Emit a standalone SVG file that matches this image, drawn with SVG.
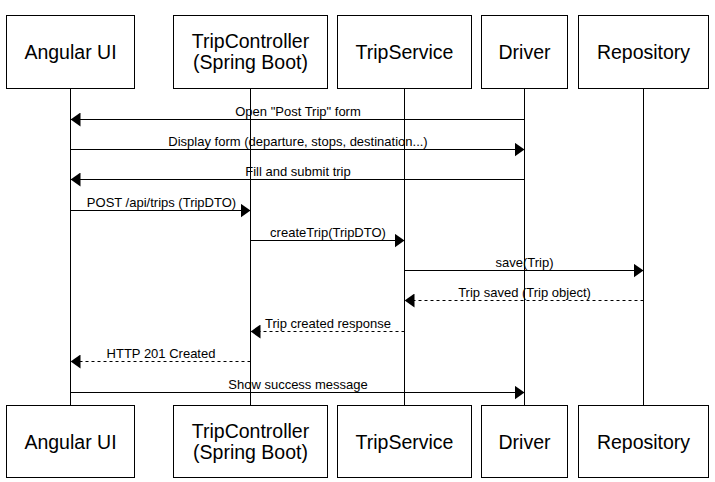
<svg xmlns="http://www.w3.org/2000/svg" width="715" height="482" viewBox="0 0 715 482">
<defs>
<marker id="ah" viewBox="0 0 10 14" refX="10" refY="7" markerWidth="10" markerHeight="14" markerUnits="userSpaceOnUse" orient="auto">
<path d="M0,0 L10,7 L0,14 Z" fill="#000"/>
</marker>
<style>
.box{fill:#fff;stroke:#000;stroke-width:1}
.life{stroke:#000;stroke-width:1;fill:none}
.msg{stroke:#000;stroke-width:1;fill:none;marker-end:url(#ah)}
.dash{stroke-dasharray:3 3}
.t{font-family:"Liberation Sans",Arial,sans-serif;font-size:19.5px;fill:#000;text-anchor:middle}
.l{font-family:"Liberation Sans",Arial,sans-serif;font-size:13px;fill:#000;text-anchor:middle}
</style>
</defs>
<rect width="715" height="482" fill="#fff"/>
<g id="lifelines">
<line class="life" x1="70.5" y1="88" x2="70.5" y2="405"/>
<line class="life" x1="250.5" y1="88" x2="250.5" y2="405"/>
<line class="life" x1="404.5" y1="88" x2="404.5" y2="405"/>
<line class="life" x1="524.5" y1="88" x2="524.5" y2="405"/>
<line class="life" x1="643.5" y1="88" x2="643.5" y2="405"/>
</g>
<g id="angular-top"><rect class="box" x="6.5" y="15.5" width="128" height="73"/><text class="t" x="70.5" y="58.5">Angular UI</text></g>
<g id="controller-top"><rect class="box" x="173.5" y="15.5" width="154" height="73"/><text class="t" x="250.5" y="47.5">TripController</text><text class="t" x="250.5" y="69">(Spring Boot)</text></g>
<g id="service-top"><rect class="box" x="337.5" y="15.5" width="134" height="73"/><text class="t" x="404.5" y="58.5">TripService</text></g>
<g id="driver-top"><rect class="box" x="481.5" y="15.5" width="86" height="73"/><text class="t" x="524.5" y="58.5">Driver</text></g>
<g id="repo-top"><rect class="box" x="578.5" y="15.5" width="130" height="73"/><text class="t" x="643.5" y="58.5">Repository</text></g>
<g id="angular-bottom"><rect class="box" x="6.5" y="405.5" width="128" height="72"/><text class="t" x="70.5" y="448.5">Angular UI</text></g>
<g id="controller-bottom"><rect class="box" x="173.5" y="405.5" width="154" height="72"/><text class="t" x="250.5" y="437.5">TripController</text><text class="t" x="250.5" y="459">(Spring Boot)</text></g>
<g id="service-bottom"><rect class="box" x="337.5" y="405.5" width="134" height="72"/><text class="t" x="404.5" y="448.5">TripService</text></g>
<g id="driver-bottom"><rect class="box" x="481.5" y="405.5" width="86" height="72"/><text class="t" x="524.5" y="448.5">Driver</text></g>
<g id="repo-bottom"><rect class="box" x="578.5" y="405.5" width="130" height="72"/><text class="t" x="643.5" y="448.5">Repository</text></g>
<g id="connectors">
<line class="msg" x1="524.5" y1="119.5" x2="70.5" y2="119.5"/>
<text class="l" x="298" y="115.5">Open "Post Trip" form</text>
<line class="msg" x1="70.5" y1="149.5" x2="524.5" y2="149.5"/>
<text class="l" x="298" y="145.5">Display form (departure, stops, destination...)</text>
<line class="msg" x1="524.5" y1="179.5" x2="70.5" y2="179.5"/>
<text class="l" x="298" y="175.5">Fill and submit trip</text>
<line class="msg" x1="70.5" y1="210.5" x2="250.5" y2="210.5"/>
<text class="l" x="161.5" y="206.5">POST /api/trips (TripDTO)</text>
<line class="msg" x1="250.5" y1="240.5" x2="404.5" y2="240.5"/>
<text class="l" x="328" y="236.5">createTrip(TripDTO)</text>
<line class="msg" x1="404.5" y1="270.5" x2="643.5" y2="270.5"/>
<text class="l" x="524.5" y="266.5">save(Trip)</text>
<line class="msg dash" x1="643.5" y1="300.5" x2="404.5" y2="300.5"/>
<text class="l" x="524.5" y="296.5">Trip saved (Trip object)</text>
<line class="msg dash" x1="404.5" y1="331.5" x2="250.5" y2="331.5"/>
<text class="l" x="328" y="327.5">Trip created response</text>
<line class="msg dash" x1="250.5" y1="361.5" x2="70.5" y2="361.5"/>
<text class="l" x="161" y="357.5">HTTP 201 Created</text>
<line class="msg" x1="70.5" y1="392.5" x2="524.5" y2="392.5"/>
<text class="l" x="298" y="388.5">Show success message</text>
</g>
</svg>
